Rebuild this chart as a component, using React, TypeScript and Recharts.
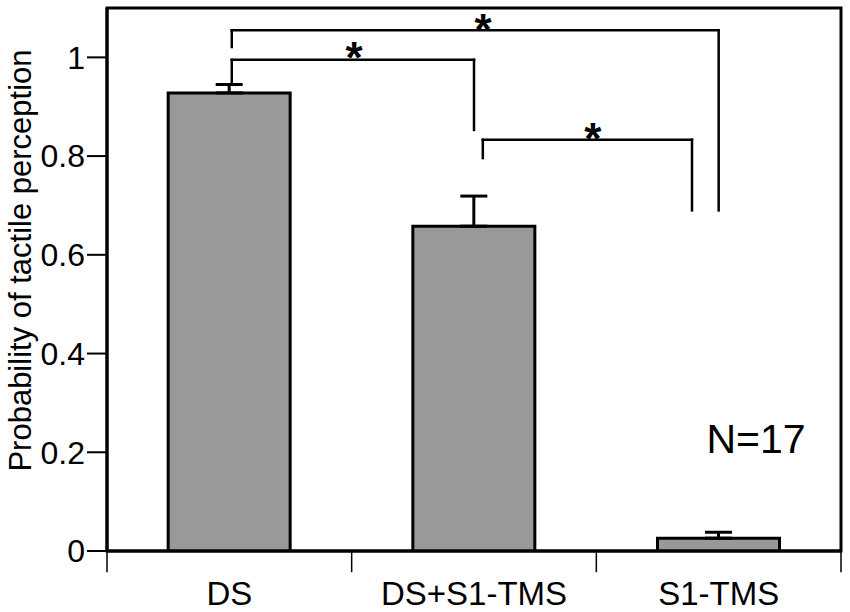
import React from 'react';
import {
  ComposedChart,
  Bar,
  XAxis,
  YAxis,
  ErrorBar,
  ReferenceLine,
  ReferenceArea,
  ReferenceDot,
  Label,
} from 'recharts';

// ---- data ----
const categories = ['DS', 'DS+S1-TMS', 'S1-TMS'];
const categoryCentres = [0.5, 1.5, 2.5];
const probabilities = [0.928, 0.658, 0.026];
const upperErrors = [0.017, 0.061, 0.012];
const yTicks = [0, 0.2, 0.4, 0.6, 0.8, 1];
const categoryBoundaries = [0, 1, 2, 3];

// significance brackets, in (category-position, probability) units
const bracketLeft = [0.51, 0.51, 1.536];
const bracketRight = [1.5, 2.5, 2.391];
const bracketTop = [0.995, 1.055, 0.833];
const bracketLeftEnd = [0.946, 1.021, 0.796];
const bracketRightEnd = [0.853, 0.69, 0.69];
const starX = [1.01, 1.537, 1.986];
const starY = [1.017, 1.073, 0.853];
const sampleSizeText = 'N=17';
const sampleSizeAt = { x: 2.653, y: 0.199 };

const data = categories.map((name, i) => ({
  name,
  pos: categoryCentres[i],
  value: probabilities[i],
  err: [0, upperErrors[i]],
}));

const FONT = '"Liberation Sans", Arial, Helvetica, sans-serif';

const segments: { x1: number; y1: number; x2: number; y2: number }[] = [];
bracketLeft.forEach((l, i) => {
  const r = bracketRight[i];
  const t = bracketTop[i];
  segments.push({ x1: l, y1: bracketLeftEnd[i], x2: l, y2: t });
  segments.push({ x1: l, y1: t, x2: r, y2: t });
  segments.push({ x1: r, y1: t, x2: r, y2: bracketRightEnd[i] });
});

const YLabel = (props: any) => {
  const vb = props.viewBox || { x: 0, y: 0, width: 0, height: 0 };
  const cx = vb.x + 31;
  const cy = vb.y + vb.height / 2 - 19;
  return (
    <text
      x={cx}
      y={cy}
      transform={`rotate(-90, ${cx}, ${cy})`}
      textAnchor="middle"
      fontSize={31}
      fontFamily={FONT}
      fill="#000"
    >
      Probability of tactile perception
    </text>
  );
};

const StarShape = (props: any) => (
  <text
    x={props.cx}
    y={props.cy}
    dy={24}
    textAnchor="middle"
    fontSize={44}
    fontWeight="bold"
    fontFamily={FONT}
    fill="#000"
  >
    *
  </text>
);

const NShape = (props: any) => (
  <text
    x={props.cx}
    y={props.cy}
    textAnchor="middle"
    fontSize={41}
    fontFamily={FONT}
    fill="#000"
  >
    {sampleSizeText}
  </text>
);

export default function App() {
  return (
    <div style={{ width: 850, height: 612, background: '#fff' }}>
      <style>{'body{margin:0;background:#fff}'}</style>
      <ComposedChart
        width={850}
        height={612}
        data={data}
        margin={{ top: 8, right: 9, bottom: 0, left: 0 }}
        barCategoryGap="25%"
      >
        <XAxis
          xAxisId="cat"
          dataKey="name"
          height={61}
          axisLine={{ stroke: '#000', strokeWidth: 3 }}
          tickLine={false}
          tickSize={29}
          tickMargin={2}
          tick={{ fill: '#000', fontSize: 33, fontFamily: FONT }}
          interval={0}
        />
        <XAxis
          xAxisId="num"
          dataKey="pos"
          type="number"
          domain={[0, 3]}
          allowDataOverflow
          hide
        />
        <YAxis
          domain={[0, 1.1]}
          ticks={yTicks}
          allowDataOverflow
          width={107}
          tickSize={20}
          tickMargin={2}
          axisLine={{ stroke: '#000', strokeWidth: 3 }}
          tickLine={{ stroke: '#000', strokeWidth: 2 }}
          tick={{ fill: '#000', fontSize: 32, fontFamily: FONT }}
          tickFormatter={(v: number) => String(v)}
        >
          <Label content={YLabel} />
        </YAxis>
        <ReferenceArea
          xAxisId="num"
          x1={0}
          x2={3}
          y1={0}
          y2={1.1}
          fill="none"
          fillOpacity={0}
          stroke="#000"
          strokeWidth={3}
          ifOverflow="visible"
        />
        <Bar
          xAxisId="cat"
          dataKey="value"
          fill="#999999"
          stroke="#000"
          strokeWidth={3}
          isAnimationActive={false}
        >
          <ErrorBar
            dataKey="err"
            direction="y"
            width={13.5}
            stroke="#000"
            strokeWidth={3}
            isAnimationActive={false}
          />
        </Bar>
        {categoryBoundaries.map((b) => (
          <ReferenceLine
            key={`tick-${b}`}
            xAxisId="num"
            segment={[
              { x: b, y: 0 },
              { x: b, y: -0.043 },
            ]}
            stroke="#000"
            strokeWidth={1.5}
            ifOverflow="visible"
          />
        ))}
        {segments.map((s, i) => (
          <ReferenceLine
            key={`seg-${i}`}
            xAxisId="num"
            segment={[
              { x: s.x1, y: s.y1 },
              { x: s.x2, y: s.y2 },
            ]}
            stroke="#000"
            strokeWidth={2.5}
            strokeLinecap="square"
            ifOverflow="visible"
          />
        ))}
        {starX.map((x, i) => (
          <ReferenceDot
            key={`star-${i}`}
            xAxisId="num"
            x={x}
            y={starY[i]}
            r={0}
            ifOverflow="visible"
            shape={StarShape}
          />
        ))}
        <ReferenceDot
          xAxisId="num"
          x={sampleSizeAt.x}
          y={sampleSizeAt.y}
          r={0}
          ifOverflow="visible"
          shape={NShape}
        />
      </ComposedChart>
    </div>
  );
}
